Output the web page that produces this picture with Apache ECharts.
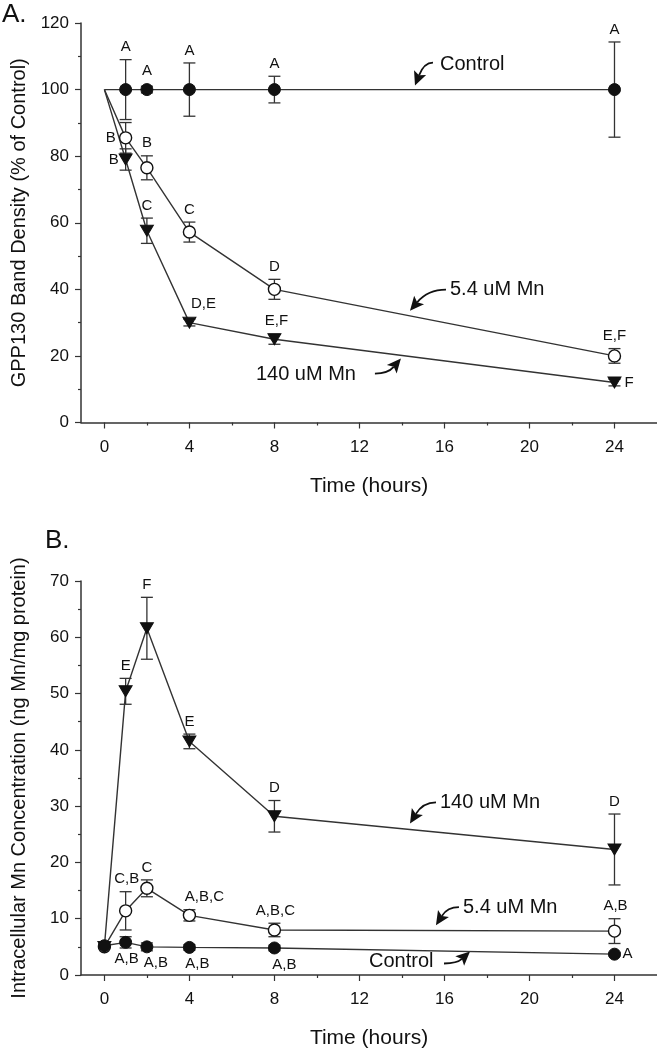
<!DOCTYPE html>
<html><head><meta charset="utf-8">
<script src="https://cdn.jsdelivr.net/npm/echarts@6/dist/echarts.min.js"></script>
<style>html,body{margin:0;padding:0;background:#fff}#c{width:657px;height:1050px}</style>
</head><body><div id="c"></div>
<script>
// ---------- DATA ----------
const hours = [0, 1, 2, 4, 8, 24];
const xTickLabels = [0, 4, 8, 12, 16, 20, 24];
const xMinorTicks = [2, 6, 10, 14, 18, 22];

// Panel A: GPP130 band density (% of control)
const ctrlA = [100, 100, 100, 100, 100, 100];
const ctrlAErr = [0, 9, 1, 8, 4, 14.3];
const mn54A = [100, 85.5, 76.5, 57.2, 40, 20];
const mn54AErr = [0, 4.6, 3.6, 3, 3, 2.2];
const mn140A = [100, 79, 57.6, 30, 25, 12];
const mn140AErr = [0, 3.2, 3.8, 1, 1.5, 1];
const ctrlALetters = ['', 'A', 'A', 'A', 'A', 'A'];
const mn54ALetters = ['', 'B', 'B', 'C', 'D', 'E,F'];
const mn140ALetters = ['', 'B', 'C', 'D,E', 'E,F', 'F'];

// Panel B: intracellular Mn (ng Mn/mg protein)
const ctrlB = [5.2, 5.8, 5.0, 4.9, 4.8, 3.7];
const ctrlBErr = [0, 1, 0.7, 0.5, 0.5, 0.3];
const mn54B = [5.0, 11.4, 15.4, 10.6, 8.0, 7.8];
const mn54BErr = [0, 3.4, 1.5, 1.0, 1.2, 2.2];
const mn140B = [5.0, 50.4, 61.6, 41.5, 28.2, 22.3];
const mn140BErr = [0, 2.3, 5.5, 1.3, 2.8, 6.3];
const ctrlBLetters = ['', 'A,B', 'A,B', 'A,B', 'A,B', 'A'];
const mn54BLetters = ['', 'C,B', 'C', 'A,B,C', 'A,B,C', 'A,B'];
const mn140BLetters = ['', 'E', 'F', 'E', 'D', 'D'];

// ---------- LAYOUT / STYLE ----------
const FONT = '"Liberation Sans", Arial, sans-serif';
const INK = '#111';
const LINE = '#333';
// letter placement: [side, dx]
const layoutCtrlA = [null, ['top',0], ['top',0], ['top',0], ['top',0], ['top',0]];
const layout54A = [null, ['left',-10], ['top',0], ['top',0], ['top',0], ['top',0]];
const layout140A = [null, ['left',-7], ['top',0], ['top',14], ['top',2], ['right',10]];
const layoutCtrlB = [null, ['bottom',1], ['bottom',9], ['bottom',8], ['bottom',10], ['right',8]];
const layout54B = [null, ['top',1], ['top',0], ['top',15], ['top',1], ['top',1]];
const layout140B = [null, ['top',0], ['top',0], ['top',0], ['top',0], ['top',0]];

const annotations = [
  {grid:0, text:'Control',   x:15.79, y:107.5, tail:[-7,-2],  head:[-25,21]},
  {grid:0, text:'5.4 uM Mn', x:16.26, y:39.9,  tail:[-4,0],   head:[-40,21]},
  {grid:0, text:'140 uM Mn', x:7.13,  y:14.4,  tail:[119,-1], head:[145,-16]},
  {grid:1, text:'140 uM Mn', x:15.79, y:30.66, tail:[-4,0],   head:[-30,21]},
  {grid:1, text:'5.4 uM Mn', x:16.87, y:12.05, tail:[-4,0],   head:[-27,18]},
  {grid:1, text:'Control',   x:12.45, y:2.4,   tail:[75,2],   head:[101,-10]}
];

const chart = echarts.init(document.getElementById('c'), null, {renderer:'canvas'});

function xAxes(gi) {
  return [{
    gridIndex: gi, type: 'value', min: -1.1, max: 26, position: 'bottom',
    axisLine: {show: true, onZero: false, lineStyle: {color: LINE, width: 1.5}},
    axisTick: {show: true, customValues: xTickLabels, length: 6, lineStyle: {color: LINE, width: 1.2}},
    axisLabel: {customValues: xTickLabels, fontSize: 17, color: INK, fontFamily: FONT, margin: 16},
    splitLine: {show: false},
    name: 'Time (hours)', nameLocation: 'middle', nameGap: 53,
    nameTextStyle: {fontSize: 21, color: INK, fontFamily: FONT}
  }, {
    gridIndex: gi, type: 'value', min: -1.1, max: 26, position: 'bottom',
    axisLine: {show: false, onZero: false},
    axisTick: {show: true, customValues: xMinorTicks, length: 3, lineStyle: {color: LINE, width: 1.2}},
    axisLabel: {show: false}, splitLine: {show: false}
  }];
}
function yAxis(gi, max, interval, name) {
  return {
    gridIndex: gi, type: 'value', min: 0, max: max, interval: interval,
    axisLine: {show: true, onZero: false, lineStyle: {color: LINE, width: 1.5}},
    axisTick: {show: true, length: 6, lineStyle: {color: LINE, width: 1.2}},
    minorTick: {show: true, splitNumber: 2, length: 3, lineStyle: {color: LINE, width: 1.2}},
    axisLabel: {fontSize: 17, color: INK, fontFamily: FONT, margin: 12},
    splitLine: {show: false},
    name: name, nameLocation: 'middle', nameGap: 52,
    nameTextStyle: {fontSize: 20, color: INK, fontFamily: FONT}
  };
}

const MARK = {
  filled: {symbol: 'circle', symbolSize: 12, itemStyle: {color: INK, borderColor: INK, borderWidth: 1}},
  open: {symbol: 'circle', symbolSize: 12, itemStyle: {color: '#fff', borderColor: INK, borderWidth: 1.4}},
  tri: {symbol: 'triangle', symbolRotate: 180, symbolSize: [13, 11], itemStyle: {color: INK, borderColor: INK, borderWidth: 1}}
};

function lineSeries(gi, vals, mark, hideFirst, z) {
  const m = MARK[mark];
  return {
    type: 'line', xAxisIndex: gi * 2, yAxisIndex: gi, z: z,
    data: hours.map((h, i) => [h, vals[i]]),
    symbol: (v, p) => (hideFirst && p.dataIndex === 0) ? 'none' : m.symbol,
    symbolRotate: m.symbolRotate || 0, symbolSize: m.symbolSize,
    showAllSymbol: true, itemStyle: m.itemStyle,
    lineStyle: {color: LINE, width: 1.4}, animation: false, silent: true
  };
}
function errSeries(gi, vals, errs) {
  return {
    type: 'custom', xAxisIndex: gi * 2, yAxisIndex: gi, z: 2, silent: true, animation: false,
    data: hours.map((h, i) => [h, vals[i], errs[i]]).filter(d => d[2] > 0),
    encode: {x: 0, y: 1},
    renderItem(params, api) {
      const x = api.value(0), v = api.value(1), e = api.value(2);
      const t = api.coord([x, v + e]), b = api.coord([x, v - e]);
      const w = 6, st = {stroke: LINE, lineWidth: 1.3};
      return {type: 'group', children: [
        {type: 'line', shape: {x1: t[0], y1: t[1], x2: b[0], y2: b[1]}, style: st},
        {type: 'line', shape: {x1: t[0] - w, y1: t[1], x2: t[0] + w, y2: t[1]}, style: st},
        {type: 'line', shape: {x1: b[0] - w, y1: b[1], x2: b[0] + w, y2: b[1]}, style: st}
      ]};
    }
  };
}
function letterSeries(gi, vals, errs, letters, layout) {
  return {
    type: 'custom', xAxisIndex: gi * 2, yAxisIndex: gi, z: 5, silent: true, animation: false,
    data: hours.map((h, i) => [h, vals[i], errs[i], i]).filter(d => letters[d[3]]),
    encode: {x: 0, y: 1},
    renderItem(params, api) {
      const x = api.value(0), v = api.value(1), e = api.value(2), i = api.value(3);
      const L = layout[i] || ['top', 0];
      const c = api.coord([x, v]);
      let px, py, align = 'center', va = 'middle';
      if (L[0] === 'top') {
        const t = api.coord([x, v + e]);
        py = Math.min(t[1], c[1] - 6) - 5; px = c[0] + L[1]; va = 'bottom';
      } else if (L[0] === 'bottom') {
        const b = api.coord([x, v - e]);
        py = Math.max(b[1], c[1] + 6) + 3; px = c[0] + L[1]; va = 'top';
      } else if (L[0] === 'left') {
        px = c[0] + L[1]; py = c[1]; align = 'right';
      } else {
        px = c[0] + L[1]; py = c[1]; align = 'left';
      }
      return {type: 'text', x: px, y: py, style: {
        text: letters[i], fill: INK, font: '15px ' + FONT, align: align, verticalAlign: va}};
    }
  };
}

const series = [
  errSeries(0, ctrlA, ctrlAErr), errSeries(0, mn54A, mn54AErr), errSeries(0, mn140A, mn140AErr),
  lineSeries(0, ctrlA, 'filled', true, 4), lineSeries(0, mn54A, 'open', true, 3), lineSeries(0, mn140A, 'tri', true, 3),
  letterSeries(0, ctrlA, ctrlAErr, ctrlALetters, layoutCtrlA),
  letterSeries(0, mn54A, mn54AErr, mn54ALetters, layout54A),
  letterSeries(0, mn140A, mn140AErr, mn140ALetters, layout140A),
  errSeries(1, ctrlB, ctrlBErr), errSeries(1, mn54B, mn54BErr), errSeries(1, mn140B, mn140BErr),
  lineSeries(1, mn54B, 'open', false, 3), lineSeries(1, mn140B, 'tri', false, 3), lineSeries(1, ctrlB, 'filled', false, 4),
  letterSeries(1, ctrlB, ctrlBErr, ctrlBLetters, layoutCtrlB),
  letterSeries(1, mn54B, mn54BErr, mn54BLetters, layout54B),
  letterSeries(1, mn140B, mn140BErr, mn140BLetters, layout140B)
];

chart.setOption({
  animation: false,
  backgroundColor: '#fff',
  grid: [
    {left: 81, top: 23, width: 576, height: 399.5},
    {left: 81, top: 581, width: 576, height: 395}
  ],
  xAxis: xAxes(0).concat(xAxes(1)),
  yAxis: [
    yAxis(0, 120, 20, 'GPP130 Band Density (% of Control)'),
    yAxis(1, 70, 10, 'Intracellular Mn Concentration (ng Mn/mg protein)')
  ],
  series: series
});

// annotations with curved arrows, anchored in data coordinates
const els = [
  {type: 'text', x: 2, y: 14.5, style: {text: 'A.', font: '26px ' + FONT, fill: INK, verticalAlign: 'middle'}},
  {type: 'text', x: 45, y: 541, style: {text: 'B.', font: '26px ' + FONT, fill: INK, verticalAlign: 'middle'}}
];
annotations.forEach(a => {
  const p = chart.convertToPixel({gridIndex: a.grid}, [a.x, a.y]);
  els.push({type: 'text', x: p[0], y: p[1], style: {text: a.text, font: '20px ' + FONT, fill: INK, verticalAlign: 'middle', align: 'left'}});
  const t = [p[0] + a.tail[0], p[1] + a.tail[1]], h = [p[0] + a.head[0], p[1] + a.head[1]];
  const c = [(h[0] + t[0]) / 2, t[1]];
  let dx = h[0] - c[0], dy = h[1] - c[1];
  const len = Math.hypot(dx, dy); dx /= len; dy /= len;
  const b = [h[0] - dx * 14, h[1] - dy * 14];
  const nx = -dy, ny = dx;
  els.push({type: 'bezierCurve', shape: {x1: t[0], y1: t[1], x2: b[0] + dx * 3, y2: b[1] + dy * 3, cpx1: c[0], cpy1: c[1]},
    style: {stroke: INK, lineWidth: 1.8, fill: null}});
  els.push({type: 'polygon', shape: {points: [h, [b[0] + nx * 6.5, b[1] + ny * 6.5], [b[0] + dx * 3, b[1] + dy * 3], [b[0] - nx * 6.5, b[1] - ny * 6.5]]},
    style: {fill: INK}});
});
chart.setOption({graphic: els});
</script>
</body></html>
